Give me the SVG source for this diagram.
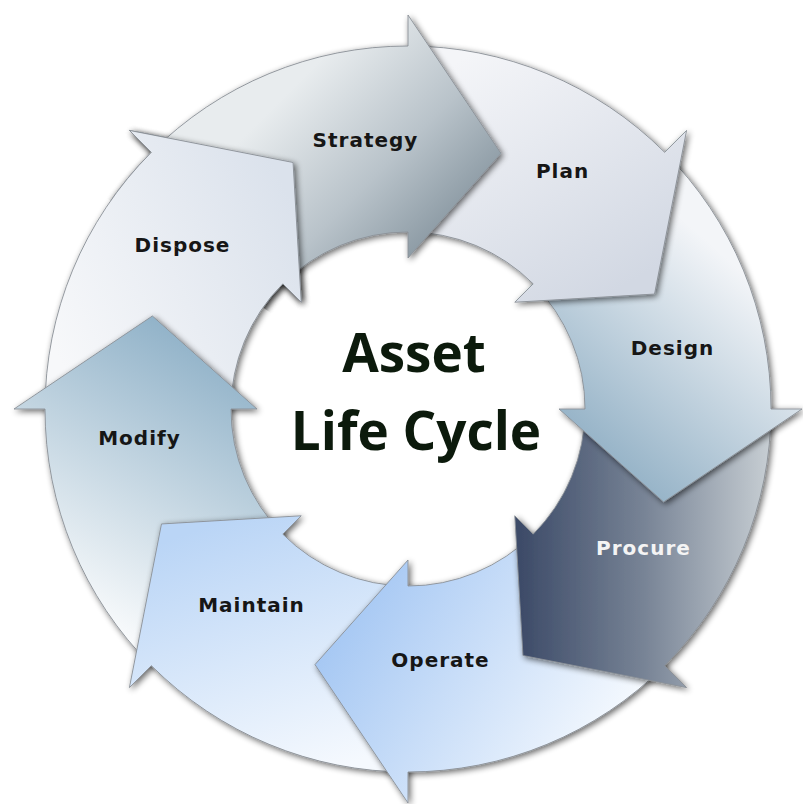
<svg xmlns="http://www.w3.org/2000/svg" xmlns:xlink="http://www.w3.org/1999/xlink" width="803" height="804" viewBox="0 0 803 804">
<defs>
<style>
.arr{stroke:#8a9096;stroke-width:0.9;stroke-linejoin:miter;filter:url(#sh)}
.lbl{font-family:"DejaVu Sans",Verdana,sans-serif;font-weight:bold;font-size:20px;letter-spacing:1px;fill:#161616;text-anchor:middle}
.title{font-family:"Open Sans","Noto Sans",sans-serif;font-weight:bold;font-size:53px;fill:#0c1a0c;text-anchor:middle}
</style>
<filter id="sh" x="-25%" y="-25%" width="150%" height="150%">
<feGaussianBlur in="SourceAlpha" stdDeviation="3"/>
<feOffset dx="1.5" dy="1.5" result="b"/>
<feComponentTransfer><feFuncA type="linear" slope="0.6"/></feComponentTransfer>
<feMerge><feMergeNode/><feMergeNode in="SourceGraphic"/></feMerge>
</filter>
<linearGradient id="gStrategy" gradientUnits="userSpaceOnUse" x1="300" y1="80" x2="470" y2="250">
<stop offset="0" stop-color="#e8ecee"/><stop offset="0.5" stop-color="#b9c3ca"/><stop offset="1" stop-color="#7b8b96"/>
</linearGradient>
<linearGradient id="gPlan" gradientUnits="userSpaceOnUse" x1="460" y1="60" x2="600" y2="300">
<stop offset="0" stop-color="#f4f5f8"/><stop offset="1" stop-color="#d2d8e3"/>
</linearGradient>
<linearGradient id="gDesign" gradientUnits="userSpaceOnUse" x1="740" y1="270" x2="590" y2="440">
<stop offset="0" stop-color="#f3f5f8"/><stop offset="1" stop-color="#97b4c8"/>
</linearGradient>
<linearGradient id="gProcure" gradientUnits="userSpaceOnUse" x1="520" y1="0" x2="770" y2="0">
<stop offset="0" stop-color="#3d4b68"/><stop offset="0.5" stop-color="#788496"/><stop offset="1" stop-color="#c7ced3"/>
</linearGradient>
<linearGradient id="gOperate" gradientUnits="userSpaceOnUse" x1="340" y1="600" x2="620" y2="770">
<stop offset="0" stop-color="#a3c6f3"/><stop offset="1" stop-color="#fbfdff"/>
</linearGradient>
<linearGradient id="gMaintain" gradientUnits="userSpaceOnUse" x1="240" y1="515" x2="330" y2="770">
<stop offset="0" stop-color="#bad5f6"/><stop offset="1" stop-color="#f5f9fe"/>
</linearGradient>
<linearGradient id="gModify" gradientUnits="userSpaceOnUse" x1="245" y1="370" x2="90" y2="640">
<stop offset="0" stop-color="#92b3c9"/><stop offset="1" stop-color="#ffffff"/>
</linearGradient>
<linearGradient id="gDispose" gradientUnits="userSpaceOnUse" x1="300" y1="220" x2="50" y2="340">
<stop offset="0" stop-color="#dbe2ec"/><stop offset="1" stop-color="#f7f8fa"/>
</linearGradient>
<clipPath id="wedge">
<polygon points="408,409 -1.6,122.2 121,-0.6 278.6,-74"/>
</clipPath>
</defs>
<rect width="803" height="804" fill="#ffffff"/>
<g id="connectors"></g>
<g id="node-dispose">
<path class="arr" fill="url(#gDispose)" d="M 45,409 A 363 363 0 0 1 151.32,152.32 L 129.4,130.4 L 293.05,162.48 L 301.23,302.23 L 282.84,283.84 A 177 177 0 0 0 231,409 Z"/>
<text class="lbl" x="182.5" y="252">Dispose</text>
</g>
<g id="node-modify">
<path class="arr" fill="url(#gModify)" d="M 151.32,665.68 A 363 363 0 0 1 45,409 L 14,409 L 152.4,315.97 L 257,409 L 231,409 A 177 177 0 0 0 282.84,534.16 Z"/>
<text class="lbl" x="139.5" y="445">Modify</text>
</g>
<g id="node-maintain">
<path class="arr" fill="url(#gMaintain)" d="M 408,772 A 363 363 0 0 1 151.32,665.68 L 129.4,687.6 L 161.48,523.95 L 301.23,515.77 L 282.84,534.16 A 177 177 0 0 0 408,586 Z"/>
<text class="lbl" x="251.5" y="612">Maintain</text>
</g>
<g id="node-operate">
<path class="arr" fill="url(#gOperate)" d="M 664.68,665.68 A 363 363 0 0 1 408,772 L 408,803 L 314.97,664.6 L 408,560 L 408,586 A 177 177 0 0 0 533.16,534.16 Z"/>
<text class="lbl" x="440.5" y="667">Operate</text>
</g>
<g id="node-procure">
<path class="arr" fill="url(#gProcure)" d="M 771,409 A 363 363 0 0 1 664.68,665.68 L 686.6,687.6 L 522.95,655.52 L 514.77,515.77 L 533.16,534.16 A 177 177 0 0 0 585,409 Z"/>
<text class="lbl" x="643.5" y="555" style="fill:#f4f4f4">Procure</text>
</g>
<g id="node-design">
<path class="arr" fill="url(#gDesign)" d="M 664.68,152.32 A 363 363 0 0 1 771,409 L 802,409 L 663.6,502.03 L 559,409 L 585,409 A 177 177 0 0 0 533.16,283.84 Z"/>
<text class="lbl" x="672.5" y="355">Design</text>
</g>
<g id="node-plan">
<path class="arr" fill="url(#gPlan)" d="M 408,46 A 363 363 0 0 1 664.68,152.32 L 686.6,130.4 L 654.52,294.05 L 514.77,302.23 L 533.16,283.84 A 177 177 0 0 0 408,232 Z"/>
<text class="lbl" x="562.5" y="178">Plan</text>
</g>
<g id="node-strategy">
<path class="arr" fill="url(#gStrategy)" d="M 151.32,152.32 A 363 363 0 0 1 408,46 L 408,15 L 501.03,153.4 L 408,258 L 408,232 A 177 177 0 0 0 282.84,283.84 Z"/>
<text class="lbl" x="365.5" y="147">Strategy</text>
</g>
<use xlink:href="#node-dispose" href="#node-dispose" clip-path="url(#wedge)"/>
<g id="node-center">
<text class="title" x="414" y="372">Asset</text>
<text class="title" x="416" y="450">Life Cycle</text>
</g>
</svg>
